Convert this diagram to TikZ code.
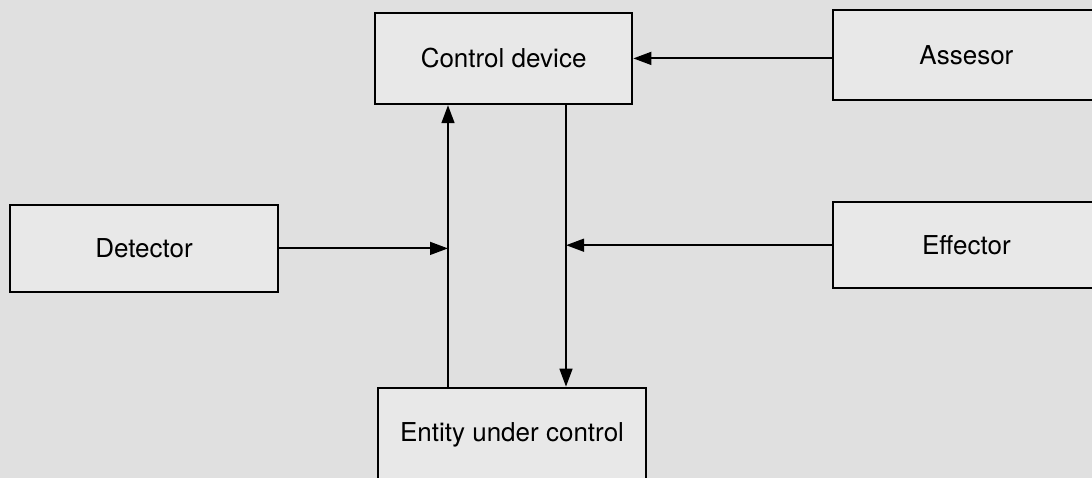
\documentclass[tikz,border=0pt]{standalone}
\usepackage{fontspec}
\setmainfont{TeX Gyre Heros}
\usetikzlibrary{arrows.meta}
\definecolor{scan}{gray}{0.88}
\definecolor{boxfill}{gray}{0.91}
\begin{document}
\begin{tikzpicture}[
  block/.style={draw, fill=boxfill, line width=1.6pt, align=center, font=\fontsize{18.5}{22}\selectfont},
  link/.style={line width=1.5pt, -{Triangle[length=4.5mm,width=3.2mm]}}
]
\fill[scan] (0,0) rectangle (27.3,-11.95);
\useasboundingbox (0,0) rectangle (27.3,-11.95);
\node[block, minimum width=6.43cm, minimum height=2.28cm] (control) at (12.59,-1.46) {Control device};
\node[block, minimum width=6.68cm, minimum height=2.25cm] (assesor) at (24.16,-1.38) {Assesor};
\node[block, minimum width=6.7cm, minimum height=2.18cm] (detector) at (3.6,-6.21) {Detector};
\node[block, minimum width=6.68cm, minimum height=2.15cm] (effector) at (24.16,-6.13) {Effector};
\node[block, minimum width=6.7cm, minimum height=2.35cm] (entity) at (12.8,-10.87) {Entity under control};
\coordinate (upx) at (11.2,0);
\coordinate (downx) at (14.15,0);
\draw[link] (entity.north -| upx) -- (control.south -| upx);
\draw[link] (control.south -| downx) -- (entity.north -| downx);
\draw[link] (assesor.west |- control.east) -- (control.east);
\draw[link] (detector.east) -- (detector.east -| upx);
\draw[link] (effector.west) -- (effector.west -| downx);
\end{tikzpicture}
\end{document}
